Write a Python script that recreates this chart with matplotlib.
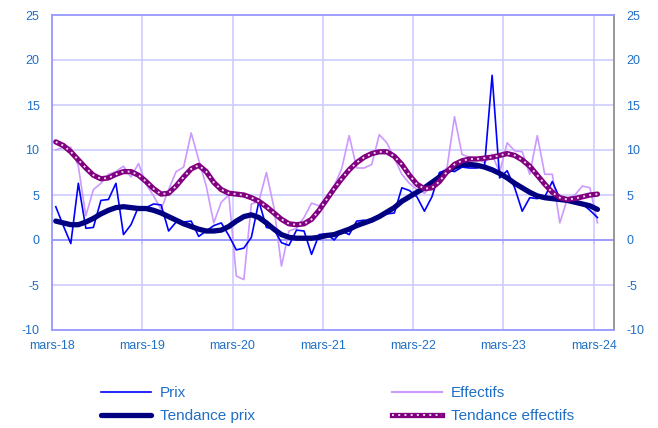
import matplotlib
matplotlib.use("Agg")
import matplotlib.pyplot as plt
import numpy as np
from matplotlib.legend_handler import HandlerTuple

plt.rcParams['font.family'] = ['Liberation Sans', 'DejaVu Sans']

# Monthly data, mars-2018 .. mars-2024 (73 months)
prix = [3.7, 1.6, -0.4, 6.3, 1.3, 1.4, 4.4, 4.5, 6.3, 0.6, 1.7, 3.7,
        3.6, 4.0, 3.9, 1.0, 2.0, 2.0, 2.1, 0.4, 1.0, 1.6, 1.9, 0.5,
        -1.1, -0.9, 0.3, 4.3, 1.4, 1.2, -0.3, -0.6, 1.1, 1.0, -1.6, 0.6,
        0.7, 0.0, 1.0, 0.6, 2.1, 2.2, 2.0, 2.6, 2.9, 3.0, 5.8, 5.5,
        4.8, 3.2, 4.8, 7.5, 7.8, 7.6, 8.1, 8.0, 8.0, 8.3, 18.3, 6.9,
        7.7, 5.8, 3.2, 4.7, 4.6, 4.8, 6.5, 4.6, 4.4, 4.2, 4.0, 3.3,
        2.5]
effectifs = [10.0, 10.3, 10.3, 8.2, 2.7, 5.6, 6.3, 7.3, 7.6, 8.2, 7.0, 8.5,
             6.2, 4.9, 3.4, 5.6, 7.6, 8.1, 11.9, 8.9, 6.0, 1.9, 4.2, 5.0,
             -4.0, -4.4, 4.0, 4.3, 7.5, 3.6, -2.9, 1.0, 1.3, 2.5, 4.1, 3.8,
             4.8, 6.0, 7.9, 11.6, 8.0, 8.0, 8.4, 11.7, 10.8, 9.1, 7.3, 6.3,
             5.6, 5.2, 6.0, 7.3, 8.0, 13.7, 9.5, 9.2, 9.0, 8.6, 9.5, 7.5,
             10.8, 9.9, 9.8, 7.3, 11.6, 7.3, 7.3, 1.9, 4.6, 5.0, 6.0, 5.8,
             1.9]
tendance_prix = [2.1, 1.9, 1.7, 1.7, 2.0, 2.4, 2.9, 3.3, 3.6, 3.7, 3.6, 3.5,
                 3.5, 3.3, 3.0, 2.6, 2.2, 1.8, 1.5, 1.2, 1.0, 1.0, 1.1, 1.5,
                 2.1, 2.6, 2.8, 2.5, 1.9, 1.2, 0.6, 0.3, 0.2, 0.2, 0.2, 0.3,
                 0.5, 0.6, 0.9, 1.2, 1.6, 1.9, 2.2, 2.6, 3.1, 3.6, 4.3, 4.8,
                 5.3, 5.8, 6.4, 7.0, 7.6, 8.1, 8.4, 8.4, 8.3, 8.1, 7.8, 7.4,
                 6.9, 6.3, 5.8, 5.3, 4.9, 4.7, 4.6, 4.5, 4.4, 4.2, 4.0, 3.8,
                 3.4]
tendance_effectifs = [10.9, 10.5, 9.8, 8.9, 8.0, 7.2, 6.8, 6.9, 7.3, 7.6, 7.6, 7.2,
                      6.5, 5.7, 5.1, 5.2, 6.0, 7.0, 7.9, 8.3, 7.6, 6.4, 5.6, 5.2,
                      5.1, 5.0, 4.7, 4.3, 3.7, 3.0, 2.3, 1.8, 1.7, 1.8, 2.3, 3.3,
                      4.5, 5.7, 6.8, 7.8, 8.6, 9.2, 9.6, 9.8, 9.8, 9.3, 8.4, 7.2,
                      6.2, 5.7, 5.8, 6.5, 7.6, 8.4, 8.8, 9.0, 9.0, 9.1, 9.2, 9.4,
                      9.6, 9.4, 8.9, 8.2, 7.2, 6.2, 5.3, 4.7, 4.5, 4.6, 4.8, 5.0,
                      5.1]
tick_labels = ['mars-18', 'mars-19', 'mars-20', 'mars-21', 'mars-22', 'mars-23', 'mars-24']
y_ticks = [-10, -5, 0, 5, 10, 15, 20, 25]

txt_color = '#1F6FC5'
grid_color = '#CCCCFF'
axis_color = '#9999FF'
dot_color = '#F0D8F0'
dot_style = (0, (1, 2.2))

months = np.arange(len(prix)) + 0.5

fig = plt.figure(figsize=(6.58, 4.28), dpi=100)
ax = fig.add_axes([52/658, 1 - 330/428, (614-52)/658, (330-15)/428])

ax.plot(months, effectifs, color='#CC99FF', lw=1.2, zorder=3)
ax.plot(months, prix, color='#0000FF', lw=1.2, zorder=4)
ax.plot(months, tendance_prix, color='#000080', lw=3.8, solid_capstyle='round', zorder=5)
ax.plot(months, tendance_effectifs, color='#800080', lw=3.8, solid_capstyle='round', zorder=6)
ax.plot(months, tendance_effectifs, color=dot_color, lw=1.4, linestyle=dot_style, zorder=7)

ax.set_xlim(0, 74.7)
ax.set_ylim(-10, 25)
xt = [12 * i for i in range(len(tick_labels))]
ax.set_xticks(xt)
ax.set_xticklabels(tick_labels)
ax.set_yticks(y_ticks)
ax.set_yticklabels([str(v) for v in y_ticks])
ax.tick_params(axis='both', length=0, labelcolor=txt_color, labelsize=9)
ax.tick_params(axis='x', pad=7)
ax.tick_params(axis='y', pad=9, labelright=True, right=False)

ax.grid(True, color=grid_color, lw=1.2, zorder=0)
ax.set_axisbelow(True)
for s in ['left', 'bottom', 'top']:
    ax.spines[s].set_color(axis_color)
    ax.spines[s].set_linewidth(1.3)
ax.spines['right'].set_color('#909090')
ax.spines['right'].set_linewidth(1.3)

ax.axhline(0, color=axis_color, lw=1.3, zorder=1)
sec = ax.secondary_xaxis(10/35)
sec.set_xticks(xt)
sec.set_xticklabels([])
sec.tick_params(axis='x', direction='out', length=3, color=axis_color, width=1.2)
sec.spines['bottom'].set_visible(False)

prix_line = plt.Line2D([], [], color='#0000FF', lw=1.2)
eff_line = plt.Line2D([], [], color='#CC99FF', lw=1.5)
tp_line = plt.Line2D([], [], color='#000080', lw=3.8, solid_capstyle='round')
te_line = plt.Line2D([], [], color='#800080', lw=3.8)
te_dot = plt.Line2D([], [], color=dot_color, lw=1.4, linestyle=dot_style)

leg_kw = dict(frameon=False, fontsize=11, labelcolor=txt_color, handlelength=3.3,
              handletextpad=0.55, labelspacing=0.58, borderpad=0, borderaxespad=0,
              loc='upper left',
              handler_map={tuple: HandlerTuple(ndivide=1, pad=0)})
fig.legend([prix_line, tp_line], ['Prix', 'Tendance prix'],
           bbox_to_anchor=(101/658, 1 - 386/428), **leg_kw)
fig.legend([eff_line, (te_line, te_dot)], ['Effectifs', 'Tendance effectifs'],
           bbox_to_anchor=(392/658, 1 - 386/428), **leg_kw)

fig.savefig('out.png', dpi=100)
